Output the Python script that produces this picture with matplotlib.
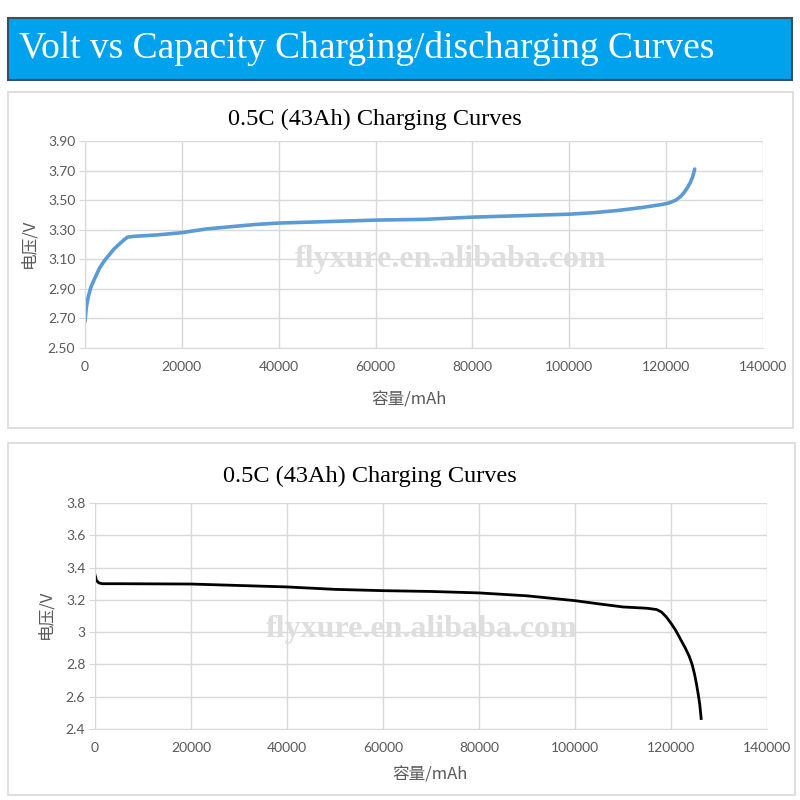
import matplotlib
matplotlib.use("Agg")
import matplotlib.pyplot as plt
from matplotlib.patches import Rectangle

# charging curve (blue), capacity in mAh vs voltage
chg_cap = [0, 300, 700, 1200, 2000, 3000, 4000, 5000, 6000, 7000, 8000, 8800,
           10000, 15000, 20000, 25000, 30000, 35000, 40000, 50000, 60000, 70000,
           80000, 90000, 100000, 105000, 110000, 115000, 119000, 120500, 122000,
           123000, 123800, 124500, 125000, 125500, 125900]
chg_volt = [2.68, 2.78, 2.85, 2.91, 2.97, 3.04, 3.09, 3.13, 3.17, 3.20, 3.23, 3.25,
            3.255, 3.265, 3.28, 3.305, 3.32, 3.335, 3.345, 3.355, 3.365, 3.37,
            3.385, 3.395, 3.405, 3.415, 3.43, 3.45, 3.47, 3.48, 3.50,
            3.525, 3.555, 3.59, 3.62, 3.66, 3.71]

# discharging curve (black)
dis_cap = [0, 300, 800, 1500, 5000, 20000, 40000, 50000, 60000, 70000, 80000,
           90000, 100000, 105000, 110000, 115000, 117000, 118000, 119000, 120000,
           121000, 122000, 123000, 123800, 124400, 124900, 125300, 125700, 126000,
           126200, 126280]
dis_volt = [3.355, 3.32, 3.305, 3.30, 3.30, 3.298, 3.28, 3.265, 3.257, 3.252, 3.243,
            3.225, 3.195, 3.175, 3.156, 3.148, 3.14, 3.125, 3.095, 3.055,
            3.01, 2.955, 2.90, 2.85, 2.80, 2.74, 2.68, 2.61, 2.55,
            2.49, 2.465]

chg_yticks = [2.50, 2.70, 2.90, 3.10, 3.30, 3.50, 3.70, 3.90]
dis_yticks = [2.4, 2.6, 2.8, 3.0, 3.2, 3.4, 3.6, 3.8]
dis_ylabels = ["2.4", "2.6", "2.8", "3", "3.2", "3.4", "3.6", "3.8"]
xticks = [0, 20000, 40000, 60000, 80000, 100000, 120000, 140000]

banner_title = "Volt vs Capacity Charging/discharging Curves"
chart_title = "0.5C (43Ah) Charging Curves"
ylab = "电压/V"
xlab = "容量/mAh"
watermark = "flyxure.en.alibaba.com"

W = H = 800
fig = plt.figure(figsize=(8, 8), dpi=100)
fig.patch.set_facecolor("white")

def fx(px):
    return px / W

def fy(py):
    return 1 - py / H

def box(x0, y0, x1, y1, **kw):
    fig.patches.append(Rectangle((fx(x0), fy(y1)), fx(x1 - x0), (y1 - y0) / H,
                                 transform=fig.transFigure, **kw))

# banner
box(8, 18, 792, 80, facecolor="#00a2ed", edgecolor="#3d4f5f", linewidth=1.5)
fig.text(fx(19), fy(48), banner_title, color="white", fontsize=27,
         family="Liberation Serif", va="center", ha="left")

# panel frames
box(8, 92, 793, 428, facecolor="none", edgecolor="#d9d9d9", linewidth=1.2)
box(8, 443, 795, 795, facecolor="none", edgecolor="#d9d9d9", linewidth=1.2)

tick_col = "#595959"
tick_font = ["Lato", "DejaVu Sans"]
cjk_font = ["Noto Sans CJK SC", "DejaVu Sans"]

def make_axes(left, top, right, bottom, yticks, ylabels, ylim):
    ax = fig.add_axes([fx(left), fy(bottom), fx(right - left), (bottom - top) / H])
    ax.set_xlim(0, 140000)
    ax.set_ylim(*ylim)
    ax.set_xticks(xticks)
    ax.set_xticklabels([str(v) for v in xticks])
    ax.set_yticks(yticks)
    ax.set_yticklabels(ylabels)
    ax.grid(True, color="#d9d9d9", linewidth=1)
    ax.set_axisbelow(True)
    for s in ax.spines.values():
        s.set_color("#d9d9d9")
    ax.spines["top"].set_visible(False)
    ax.spines["right"].set_visible(False)
    ax.tick_params(axis="y", length=4, color="#d9d9d9", labelcolor=tick_col,
                   labelsize=10, pad=3)
    ax.tick_params(axis="x", length=0, labelcolor=tick_col, labelsize=10, pad=9)
    for lab in ax.get_xticklabels() + ax.get_yticklabels():
        lab.set_family(tick_font)
    return ax

# chart 1 - charging
ax1 = make_axes(85, 141, 763, 348, chg_yticks, [f"{v:.2f}" for v in chg_yticks], (2.5, 3.9))
ax1.plot(chg_cap, chg_volt, color="#5b9bd5", linewidth=2.6, solid_capstyle="round")
fig.text(fx(375), fy(119), chart_title, family="Liberation Serif", fontsize=17.5,
         ha="center", va="center", color="black")
fig.text(fx(451), fy(259), watermark, family="Liberation Serif", fontsize=23,
         fontweight="bold", ha="center", va="center", color="#dedede")
fig.text(fx(29), fy(243), ylab, family=cjk_font, fontsize=12, rotation=90,
         ha="center", va="center", color=tick_col)
fig.text(fx(409), fy(400), xlab, family=cjk_font, fontsize=12,
         ha="center", va="center", color=tick_col)

# chart 2 - discharging
ax2 = make_axes(95, 503, 767, 729, dis_yticks, dis_ylabels, (2.4, 3.8))
ax2.plot(dis_cap, dis_volt, color="black", linewidth=2.0)
fig.text(fx(370), fy(476), chart_title, family="Liberation Serif", fontsize=17.5,
         ha="center", va="center", color="black")
fig.text(fx(422), fy(630), watermark, family="Liberation Serif", fontsize=23,
         fontweight="bold", ha="center", va="center", color="#dedede")
fig.text(fx(46), fy(614), ylab, family=cjk_font, fontsize=12, rotation=90,
         ha="center", va="center", color=tick_col)
fig.text(fx(430), fy(775), xlab, family=cjk_font, fontsize=12,
         ha="center", va="center", color=tick_col)

fig.savefig("out.png", dpi=100)
